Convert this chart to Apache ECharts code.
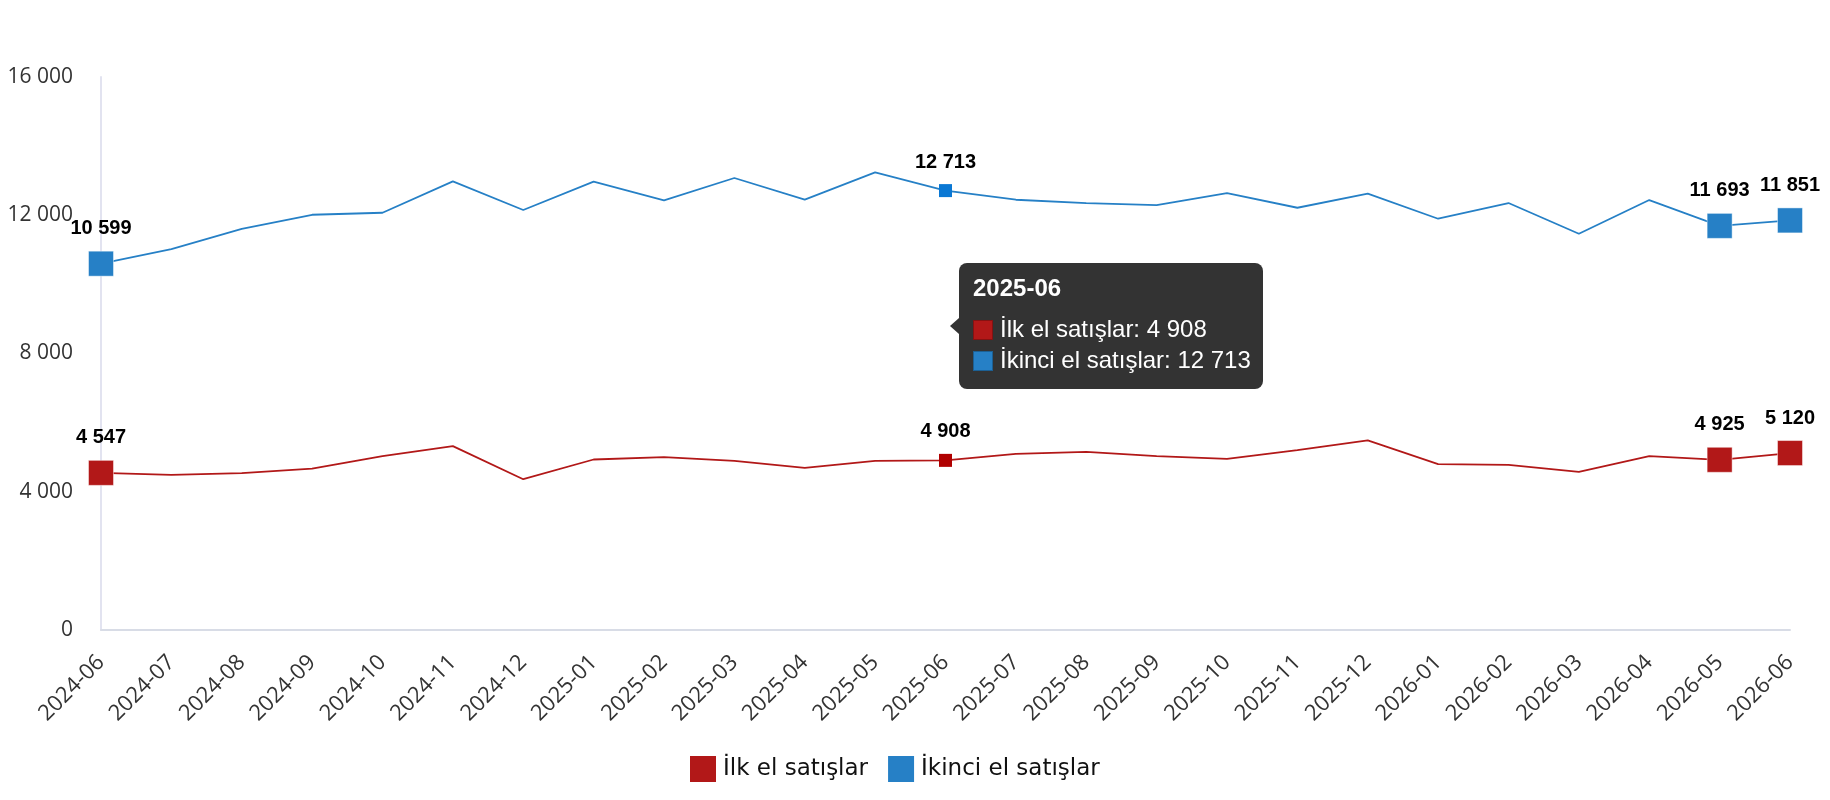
<!DOCTYPE html>
<html>
<head>
<meta charset="utf-8">
<script src="https://cdn.jsdelivr.net/npm/echarts@6/dist/echarts.min.js"></script>
<style>
  html, body { margin: 0; padding: 0; background: #fff; }
  #chart { width: 1830px; height: 800px; }
</style>
</head>
<body>
<div id="chart"></div>
<script>
const categories = [
  "2024-06", "2024-07", "2024-08", "2024-09", "2024-10", "2024-11", "2024-12",
  "2025-01", "2025-02", "2025-03", "2025-04", "2025-05", "2025-06", "2025-07",
  "2025-08", "2025-09", "2025-10", "2025-11", "2025-12", "2026-01", "2026-02",
  "2026-03", "2026-04", "2026-05", "2026-06"
];
const ilkEl = [4547, 4487, 4536, 4672, 5029, 5319, 4362, 4933, 5000, 4893, 4690, 4893,
  4908, 5096, 5154, 5029, 4951, 5203, 5484, 4797, 4777, 4574, 5029, 4925, 5120];
const ikinciEl = [10599, 11020, 11609, 12014, 12072, 12980, 12151, 12971, 12430, 13078, 12452, 13241,
  12713, 12449, 12353, 12295, 12643, 12217, 12623, 11899, 12353, 11464, 12440, 11693, 11851];
const yTicks = [0, 4000, 8000, 12000, 16000];
const bigMarks = [0, 23, 24];   // points with big square + label
const hoverIdx = 12;            // 2025-06, tooltip point

const RED = "#b21818";
const BLUE = "#2680c6";

const fmt = v => String(v).replace(/\B(?=(\d{3})+(?!\d))/g, " ");

// only a few points get a marker and a value label
function buildData(values, color, hoverColor) {
  return values.map((v, i) => {
    if (bigMarks.includes(i)) {
      return {
        value: v, symbol: "rect", symbolSize: 25,
        itemStyle: { color, borderColor: "rgba(255,255,255,0.45)", borderWidth: 1 },
        label: { show: true }
      };
    }
    if (i === hoverIdx) {
      return {
        value: v, symbol: "rect", symbolSize: 13,
        itemStyle: { color: hoverColor },
        label: { show: true }
      };
    }
    return { value: v, symbol: "none" };
  });
}

const labelStyle = {
  position: "top",
  distance: 12,
  color: "#000",
  fontFamily: "Liberation Sans, Arial, sans-serif",
  fontWeight: "bold",
  fontSize: 20,
  formatter: p => fmt(p.value)
};

const chart = echarts.init(document.getElementById("chart"));

const marker = c =>
  `<span style="display:inline-block;width:18px;height:18px;background:${c};border:1px solid rgba(0,0,0,0.25);vertical-align:-3px;margin-right:7px"></span>`;

const option = {
  animation: false,
  grid: { left: 101, right: 40, top: 77, bottom: 170, outerBoundsMode: "none" },
  legend: {
    left: 685,
    top: 751,
    itemWidth: 26,
    itemHeight: 26,
    itemGap: 20,
    icon: "rect",
    textStyle: { fontFamily: "DejaVu Sans, sans-serif", fontSize: 23, color: "#111", padding: [0, 0, 0, 2] },
    data: ["İlk el satışlar", "İkinci el satışlar"]
  },
  tooltip: {
    trigger: "item",
    triggerOn: "none",
    alwaysShowContent: true,
    backgroundColor: "#333",
    borderWidth: 0,
    padding: [10, 12, 14, 14],
    extraCssText: "border-radius:8px;box-shadow:none;",
    position: [959, 263],
    textStyle: { color: "#fff", fontFamily: "Liberation Sans, Arial, sans-serif", fontSize: 24 },
    formatter: p => {
      const i = p.dataIndex;
      return `<div style="position:absolute;left:-9px;top:50%;margin-top:-8px;width:0;height:0;border-top:8px solid transparent;border-bottom:8px solid transparent;border-right:9px solid #333"></div>` +
        `<div style="font-weight:bold;line-height:30px">${categories[i]}</div>` +
        `<div style="margin-top:10px;line-height:31px">${marker(RED)}İlk el satışlar: ${fmt(ilkEl[i])}</div>` +
        `<div style="line-height:31px">${marker(BLUE)}İkinci el satışlar: ${fmt(ikinciEl[i])}</div>`;
    }
  },
  xAxis: {
    type: "category",
    data: categories,
    boundaryGap: false,
    axisLine: { lineStyle: { color: "#d8dce6", width: 2 } },
    axisTick: { show: false },
    axisLabel: {
      rotate: 45,
      margin: 29,
      interval: 0,
      color: "#333",
      fontFamily: "Open Sans, sans-serif",
      fontSize: 22
    }
  },
  yAxis: {
    type: "value",
    min: yTicks[0],
    max: yTicks[yTicks.length - 1],
    interval: yTicks[1] - yTicks[0],
    axisLine: { show: true, lineStyle: { color: "#e2e3f0", width: 2 } },
    axisTick: { show: false },
    splitLine: { show: false },
    axisLabel: {
      margin: 28,
      color: "#333",
      fontFamily: "Open Sans, sans-serif",
      fontSize: 21,
      formatter: v => fmt(v)
    }
  },
  series: [
    {
      name: "İlk el satışlar",
      type: "line",
      color: RED,
      lineStyle: { width: 1.8, color: RED },
      label: labelStyle,
      data: buildData(ilkEl, RED, "#b00000")
    },
    {
      name: "İkinci el satışlar",
      type: "line",
      color: BLUE,
      lineStyle: { width: 1.8, color: BLUE },
      label: labelStyle,
      data: buildData(ikinciEl, BLUE, "#0a78d4")
    }
  ]
};

chart.setOption(option);
chart.dispatchAction({ type: "showTip", seriesIndex: 0, dataIndex: hoverIdx });
</script>
</body>
</html>
